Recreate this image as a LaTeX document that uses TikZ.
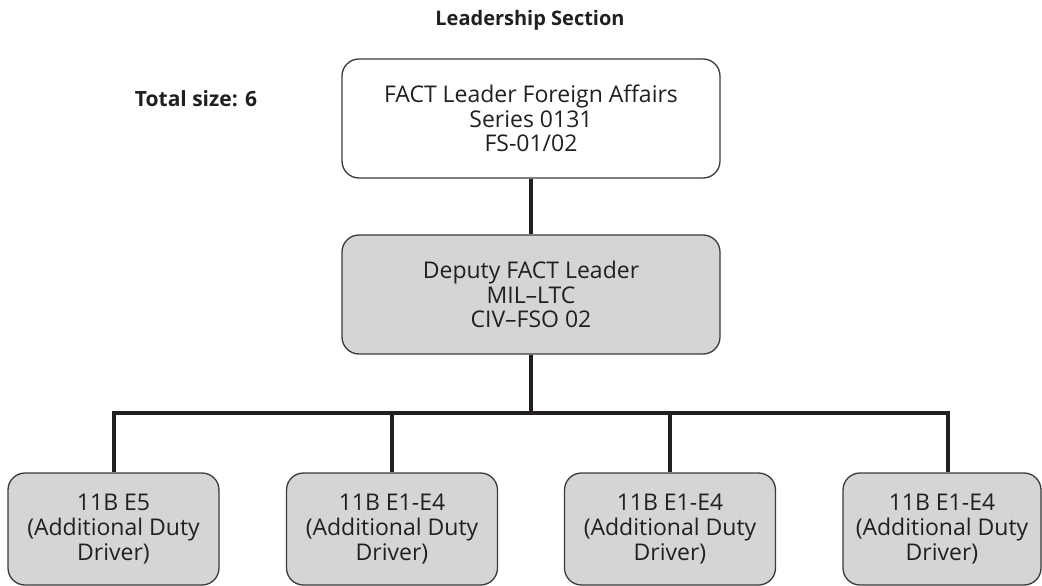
\documentclass[tikz,border=0pt]{standalone}
\usepackage{fontspec}
\setmainfont{Open Sans}
\begin{document}
\begin{tikzpicture}[x=1pt,y=-1pt,
  box/.style={draw=boxline, line width=1.3pt, rounded corners=17pt,
    align=center, inner sep=0pt, font=\fontsize{23}{24.8}\selectfont, text=ink},
  plainbox/.style={box, fill=white},
  greybox/.style={box, fill=boxfill},
  wire/.style={draw=ink, line width=4pt},
  heading/.style={font=\fontsize{20}{24}\selectfont\bfseries, text=ink, inner sep=0pt}]
\definecolor{ink}{HTML}{231F20}
\definecolor{boxline}{HTML}{3A3A3A}
\definecolor{boxfill}{HTML}{D4D5D6}
\useasboundingbox[fill=white] (0,0) rectangle (1042,586);

% titles
\node[heading] (title) at (530,20) {Leadership Section};
\node[heading, font=\fontsize{21}{24}\selectfont\bfseries] (total) at (196,99) {Total size: 6};

% leader and deputy
\node[plainbox, minimum width=378pt, minimum height=119pt] (lead) at (531,118.5)
  {FACT Leader Foreign Affairs\\Series 0131\\FS-01/02};
\node[greybox, minimum width=378pt, minimum height=119pt] (dep) at (531,294.5)
  {Deputy FACT Leader\\MIL--LTC\\CIV--FSO 02};

% section members
\node[greybox, minimum width=211pt, minimum height=112pt] (m1) at (113.5,529)
  {11B E5\\(Additional Duty\\Driver)};
\node[greybox, minimum width=211pt, minimum height=112pt] (m2) at (392,529)
  {11B E1-E4\\(Additional Duty\\Driver)};
\node[greybox, minimum width=211pt, minimum height=112pt] (m3) at (670,529)
  {11B E1-E4\\(Additional Duty\\Driver)};
\node[greybox, minimum width=198pt, minimum height=112pt] (m4) at (942,529)
  {11B E1-E4\\(Additional Duty\\Driver)};

% connectors
\coordinate (bus) at (0,413);
\coordinate (j4) at (948,413);
\draw[wire] (lead.south) -- (dep.north);
\draw[wire] (dep.south) -- (dep.south |- bus);
\draw[wire, line join=miter] (m1.north) -- (m1.north |- bus) -- (j4) -- (j4 |- m4.north);
\draw[wire] (m2.north |- bus) -- (m2.north);
\draw[wire] (m3.north |- bus) -- (m3.north);
\end{tikzpicture}
\end{document}
